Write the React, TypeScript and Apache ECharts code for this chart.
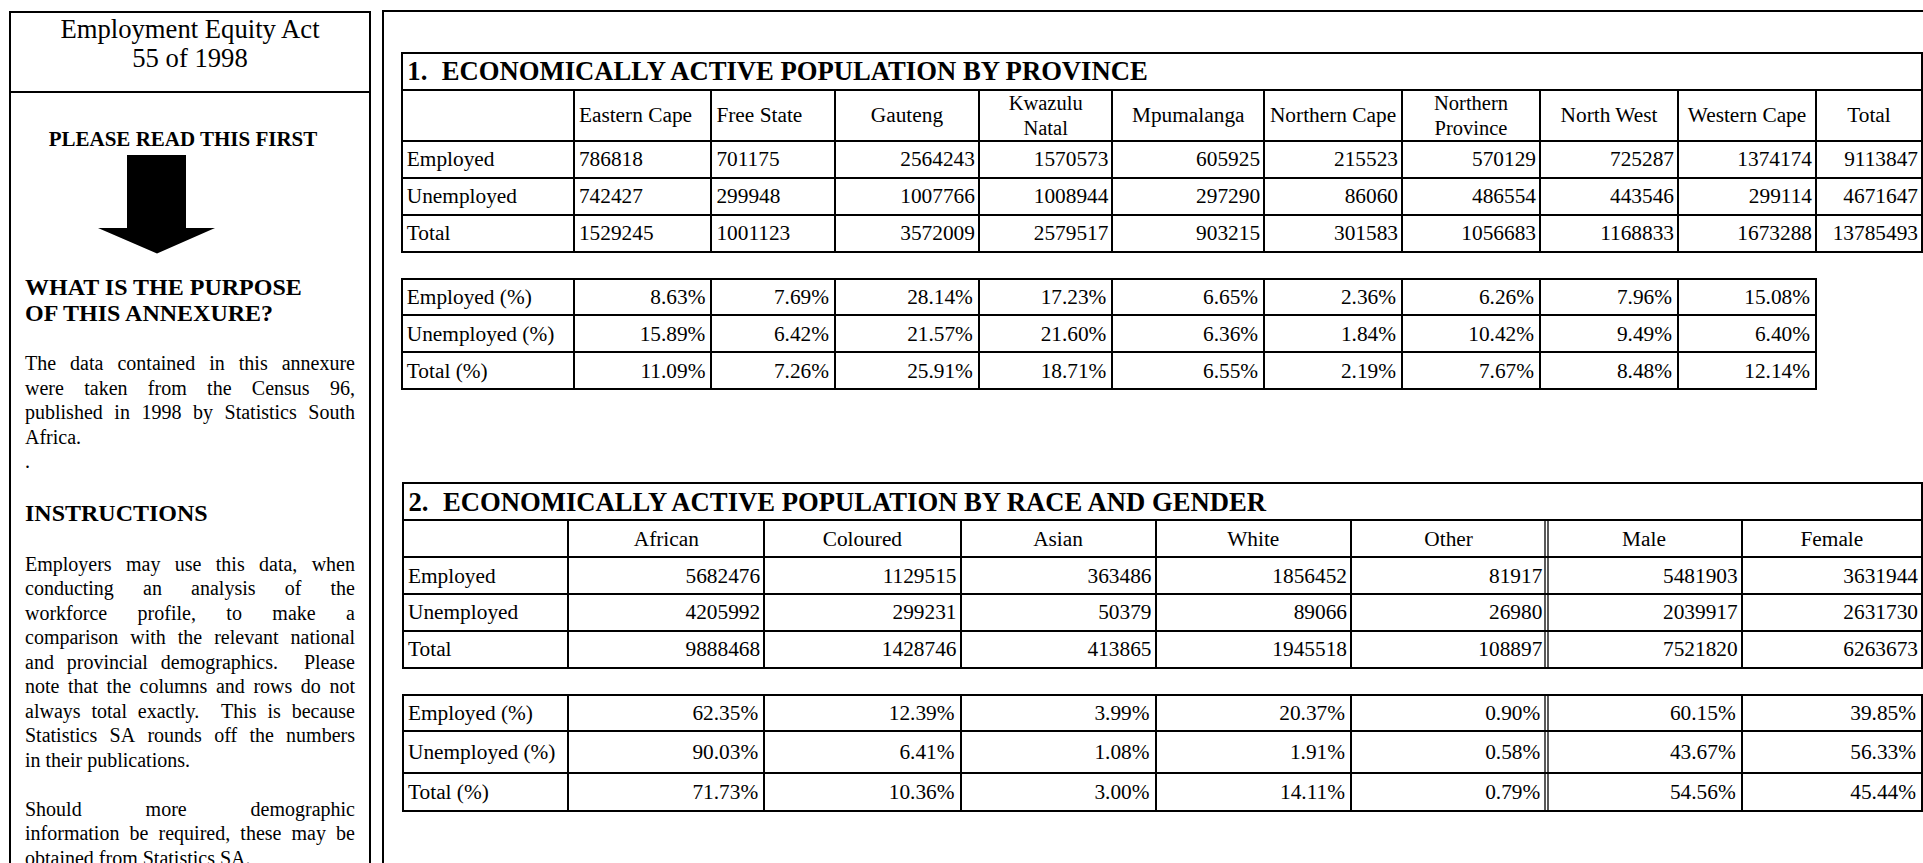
import React, { useEffect, useRef } from 'react';
import * as echarts from 'echarts';

// ---------------- DATA ----------------
const provinceHeaders = ['Eastern Cape', 'Free State', 'Gauteng', 'Kwazulu\nNatal', 'Mpumalanga', 'Northern Cape', 'Northern\nProvince', 'North West', 'Western Cape', 'Total'];
const countRowLabels = ['Employed', 'Unemployed', 'Total'];
const pctRowLabels = ['Employed (%)', 'Unemployed (%)', 'Total (%)'];

const provEmployed = [786818, 701175, 2564243, 1570573, 605925, 215523, 570129, 725287, 1374174, 9113847];
const provUnemployed = [742427, 299948, 1007766, 1008944, 297290, 86060, 486554, 443546, 299114, 4671647];
const provTotal = [1529245, 1001123, 3572009, 2579517, 903215, 301583, 1056683, 1168833, 1673288, 13785493];
const provEmployedPct = [8.63, 7.69, 28.14, 17.23, 6.65, 2.36, 6.26, 7.96, 15.08];
const provUnemployedPct = [15.89, 6.42, 21.57, 21.6, 6.36, 1.84, 10.42, 9.49, 6.4];
const provTotalPct = [11.09, 7.26, 25.91, 18.71, 6.55, 2.19, 7.67, 8.48, 12.14];

const groupHeaders = ['African', 'Coloured', 'Asian', 'White', 'Other', 'Male', 'Female'];
const grpEmployed = [5682476, 1129515, 363486, 1856452, 81917, 5481903, 3631944];
const grpUnemployed = [4205992, 299231, 50379, 89066, 26980, 2039917, 2631730];
const grpTotal = [9888468, 1428746, 413865, 1945518, 108897, 7521820, 6263673];
const grpEmployedPct = [62.35, 12.39, 3.99, 20.37, 0.9, 60.15, 39.85];
const grpUnemployedPct = [90.03, 6.41, 1.08, 1.91, 0.58, 43.67, 56.33];
const grpTotalPct = [71.73, 10.36, 3.0, 14.11, 0.79, 54.56, 45.44];

const sideTitle = ['Employment Equity Act', '55 of 1998'];
const sideNotice = 'PLEASE READ THIS FIRST';
const purposeHeading = ['WHAT IS THE PURPOSE', 'OF THIS ANNEXURE?'];
const purposeLines = [
  'The data contained in this annexure',
  'were taken from the Census 96,',
  'published in 1998 by Statistics South',
  'Africa.',
  '.',
];
const instructionsHeading = 'INSTRUCTIONS';
const instructionLines = [
  'Employers may use this data, when',
  'conducting an analysis of the',
  'workforce profile, to make a',
  'comparison with the relevant national',
  'and provincial demographics.  Please',
  'note that the columns and rows do not',
  'always total exactly.  This is because',
  'Statistics SA rounds off the numbers',
  'in their publications.',
  '',
  'Should more demographic',
  'information be required, these may be',
  'obtained from Statistics SA.',
];
// lines that end a paragraph (not justified)
const instructionLastLines = [8, 12];
const purposeLastLines = [3, 4];

const table1Title = ['1.', 'ECONOMICALLY ACTIVE POPULATION BY PROVINCE'];
const table2Title = ['2.', 'ECONOMICALLY ACTIVE POPULATION BY RACE AND GENDER'];

// ---------------- LAYOUT ----------------
const FONT = '"Liberation Serif", "Times New Roman", Times, serif';
const BODY = 21.33;
const LW = 2;

const pct = (v: number) => v.toFixed(2) + '%';

function hLine(x1: number, x2: number, y: number, w = LW) {
  const yy = Math.round(y);
  return { type: 'line', silent: true, shape: { x1: Math.round(x1), y1: yy, x2: Math.round(x2), y2: yy }, style: { stroke: '#000', lineWidth: w, lineCap: 'square' } };
}
function vLine(x: number, y1: number, y2: number, w = LW) {
  const xx = Math.round(x);
  return { type: 'line', silent: true, shape: { x1: xx, y1: Math.round(y1), x2: xx, y2: Math.round(y2) }, style: { stroke: '#000', lineWidth: w, lineCap: 'square' } };
}
function txt(text: string, x: number, y: number, o: any = {}) {
  return {
    type: 'text', silent: true, x, y,
    style: {
      text, fontFamily: FONT, fontSize: o.size ?? BODY, fontWeight: o.weight ?? 'normal', fill: '#000',
      align: o.align ?? 'left', verticalAlign: 'middle', lineHeight: o.lh,
    },
  };
}

let measureCtx: CanvasRenderingContext2D | null = null;
function measure(s: string, size: number, weight = 'normal') {
  if (!measureCtx) measureCtx = document.createElement('canvas').getContext('2d');
  measureCtx!.font = `${weight} ${size}px "Liberation Serif"`;
  return measureCtx!.measureText(s).width;
}
function justified(line: string, left: number, right: number, y: number, size: number) {
  const tokens = line.split(' ');
  const words = tokens.filter((t) => t.length > 0);
  const nSpaces = tokens.length - 1;
  if (nSpaces <= 0) return [txt(line, left, y, { size })];
  const wordsW = words.reduce((s, w) => s + measure(w, size), 0);
  const spaceW = (right - left - wordsW) / nSpaces;
  const out: any[] = [];
  let x = left;
  tokens.forEach((t, i) => {
    if (t.length > 0) {
      out.push(txt(t, x, y, { size }));
      x += measure(t, size);
    }
    if (i < tokens.length - 1) x += spaceW;
  });
  return out;
}

function buildTable(cfg: any) {
  const els: any[] = [];
  const { xs, titleTop, headTop, rowLines, pctLines, pctRight, headers, rows, pctRows, headAlign, dataAlign, doubleIdx, title } = cfg;
  const left = xs[0];
  const right = xs[xs.length - 1];
  const bottom = rowLines[rowLines.length - 1];
  // title row
  els.push(hLine(left, right, titleTop));
  els.push(hLine(left, right, headTop));
  rowLines.forEach((y: number) => els.push(hLine(left, right, y)));
  els.push(vLine(left, titleTop, bottom));
  els.push(vLine(right, titleTop, bottom));
  const pctXs = xs.filter((x: number) => x <= pctRight + 0.5);
  // column lines
  xs.slice(1, xs.length - 1).forEach((x: number, i: number) => {
    if (doubleIdx === i) {
      els.push(vLine(x - 1.6, headTop, bottom, 1.3));
      els.push(vLine(x + 1.6, headTop, bottom, 1.3));
    } else {
      els.push(vLine(x, headTop, bottom));
    }
  });
  els.push(txt(title[0], left + 5.5, (titleTop + headTop) / 2, { size: 26.67, weight: 'bold' }));
  els.push(txt(title[1], left + 40, (titleTop + headTop) / 2, { size: 26.67, weight: 'bold' }));
  // headers
  const hy = (headTop + rowLines[0]) / 2;
  headers.forEach((h: string, j: number) => {
    const x0 = xs[j + 1], x1 = xs[j + 2];
    const two = h.indexOf('\n') >= 0;
    const a = headAlign(j);
    const x = a === 'left' ? x0 + 5 : (x0 + x1) / 2;
    els.push(txt(h, x, hy, { align: a, size: two ? 20.5 : BODY, lh: two ? 25 : undefined }));
  });
  // count rows
  rows.forEach((r: any, i: number) => {
    const y = (rowLines[i] + rowLines[i + 1]) / 2;
    els.push(txt(r.label, left + 5, y));
    r.values.forEach((v: number, j: number) => {
      const a = dataAlign(j);
      const x = a === 'left' ? xs[j + 1] + 5 : xs[j + 2] - 4;
      els.push(txt(String(v), x, y, { align: a }));
    });
  });
  // pct table
  pctLines.forEach((y: number) => els.push(hLine(left, pctRight, y)));
  pctXs.forEach((x: number, i: number) => {
    if (doubleIdx !== undefined && i === doubleIdx + 1) {
      els.push(vLine(x - 1.6, pctLines[0], pctLines[pctLines.length - 1], 1.3));
      els.push(vLine(x + 1.6, pctLines[0], pctLines[pctLines.length - 1], 1.3));
    } else {
      els.push(vLine(x, pctLines[0], pctLines[pctLines.length - 1]));
    }
  });
  pctRows.forEach((r: any, i: number) => {
    const y = (pctLines[i] + pctLines[i + 1]) / 2;
    els.push(txt(r.label, left + 5, y));
    r.values.forEach((v: number, j: number) => {
      els.push(txt(pct(v), xs[j + 2] - 6, y, { align: 'right' }));
    });
  });
  return els;
}

function buildGraphics() {
  const els: any[] = [];
  // left side panel
  els.push(vLine(10, 12, 900));
  els.push(vLine(370, 12, 900));
  els.push(hLine(10, 370, 12));
  els.push(hLine(10, 370, 92));
  els.push(txt(sideTitle[0], 190, 28.5, { size: 26.67, align: 'center' }));
  els.push(txt(sideTitle[1], 190, 57.5, { size: 26.67, align: 'center' }));
  els.push(txt(sideNotice, 183, 139, { size: 21, weight: 'bold', align: 'center' }));
  els.push({
    type: 'polygon', silent: true,
    shape: { points: [[127, 155], [186, 155], [186, 228], [215, 228], [157, 253.5], [98, 228], [127, 228]] },
    style: { fill: '#000' },
  });
  els.push(txt(purposeHeading[0], 25, 286.5, { size: 24, weight: 'bold' }));
  els.push(txt(purposeHeading[1], 25, 312.5, { size: 24, weight: 'bold' }));
  purposeLines.forEach((l, i) => {
    const y = 363.3 + 24.5 * i;
    if (purposeLastLines.indexOf(i) >= 0) els.push(txt(l, 25, y, { size: 20 }));
    else els.push(...justified(l, 25, 355, y, 20));
  });
  els.push(txt(instructionsHeading, 25, 513, { size: 24, weight: 'bold' }));
  instructionLines.forEach((l, i) => {
    if (!l) return;
    const y = 563.5 + 24.5 * i;
    if (instructionLastLines.indexOf(i) >= 0) els.push(txt(l, 25, y, { size: 20 }));
    else els.push(...justified(l, 25, 355, y, 20));
  });

  // right main panel frame
  els.push(hLine(383, 1930, 11));
  els.push(vLine(383, 11, 900));

  els.push(...buildTable({
    title: table1Title,
    xs: [401.8, 573.9, 711.4, 835, 978.9, 1112.4, 1264.1, 1402, 1540, 1678, 1816, 1922],
    titleTop: 53, headTop: 89.6, rowLines: [140.6, 177.5, 214.8, 251.7], pctLines: [278.6, 315.4, 352.4, 389],
    pctRight: 1816,
    headers: provinceHeaders,
    rows: [
      { label: countRowLabels[0], values: provEmployed },
      { label: countRowLabels[1], values: provUnemployed },
      { label: countRowLabels[2], values: provTotal },
    ],
    pctRows: [
      { label: pctRowLabels[0], values: provEmployedPct },
      { label: pctRowLabels[1], values: provUnemployedPct },
      { label: pctRowLabels[2], values: provTotalPct },
    ],
    headAlign: (j: number) => (j < 2 ? 'left' : 'center'),
    dataAlign: (j: number) => (j < 2 ? 'left' : 'right'),
  }));

  els.push(...buildTable({
    title: table2Title,
    xs: [403, 568.4, 764.2, 960.5, 1155.5, 1351, 1546.3, 1741.7, 1922],
    titleTop: 483, headTop: 520, rowLines: [557.3, 594, 630.7, 667.7], pctLines: [695.3, 730.5, 772.5, 810.7],
    pctRight: 1922,
    doubleIdx: 5,
    headers: groupHeaders,
    rows: [
      { label: countRowLabels[0], values: grpEmployed },
      { label: countRowLabels[1], values: grpUnemployed },
      { label: countRowLabels[2], values: grpTotal },
    ],
    pctRows: [
      { label: pctRowLabels[0], values: grpEmployedPct },
      { label: pctRowLabels[1], values: grpUnemployedPct },
      { label: pctRowLabels[2], values: grpTotalPct },
    ],
    headAlign: () => 'center',
    dataAlign: () => 'right',
  }));
  return els;
}

export default function App() {
  const ref = useRef<HTMLDivElement>(null);
  useEffect(() => {
    document.body.style.margin = '0';
    document.body.style.overflow = 'hidden';
    const chart = echarts.init(ref.current!, undefined, { renderer: 'svg' });
    chart.setOption({
      animation: false,
      backgroundColor: '#ffffff',
      graphic: { elements: buildGraphics() },
    });
    return () => chart.dispose();
  }, []);
  return <div ref={ref} style={{ position: 'absolute', left: 0, top: 0, width: 1923, height: 863 }} />;
}
